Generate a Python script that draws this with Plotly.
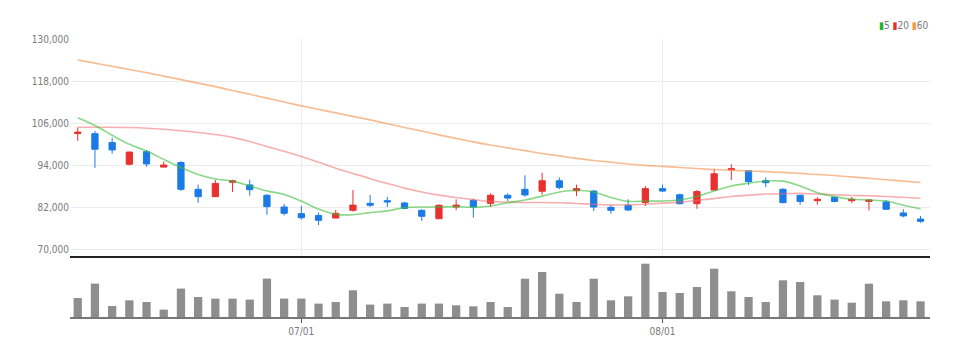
import plotly.graph_objects as go
from plotly.subplots import make_subplots

# ---------------- data ----------------
dates = [
    "2017-06-14", "2017-06-15", "2017-06-16", "2017-06-19", "2017-06-20", "2017-06-21",
    "2017-06-22", "2017-06-23", "2017-06-26", "2017-06-27", "2017-06-28", "2017-06-29",
    "2017-06-30",
    "2017-07-03", "2017-07-04", "2017-07-05", "2017-07-06", "2017-07-07", "2017-07-10",
    "2017-07-11", "2017-07-12", "2017-07-13", "2017-07-14", "2017-07-17", "2017-07-18",
    "2017-07-19", "2017-07-20", "2017-07-21", "2017-07-24", "2017-07-25", "2017-07-26",
    "2017-07-27", "2017-07-28", "2017-07-31",
    "2017-08-01", "2017-08-02", "2017-08-03", "2017-08-04", "2017-08-07", "2017-08-08",
    "2017-08-09", "2017-08-10", "2017-08-11", "2017-08-14", "2017-08-16", "2017-08-17",
    "2017-08-18", "2017-08-21", "2017-08-22", "2017-08-23",
]

open_ = [103000, 102950, 100400, 94200, 97800, 93400, 94700, 87050, 84950, 89050,
         88300, 85350, 82000, 80100, 79600, 78850, 81050, 83050, 83800, 83150,
         81050, 78650, 82000, 83900, 83050, 85350, 87050, 86500, 89500, 86650,
         86550, 81900, 82500, 83250, 87250, 85500, 82950, 86850, 92550, 92400,
         89500, 87050, 85350, 83800, 84750, 83800, 83600, 83450, 80300, 78550]
high = [104700, 103700, 101800, 97800, 98300, 95000, 95100, 88400, 89700, 89800,
        89800, 85700, 82850, 82300, 80400, 81150, 86850, 85450, 84850, 83450,
        81350, 82750, 84200, 84400, 85900, 85900, 91050, 91800, 90400, 88400,
        86850, 82500, 84200, 88000, 88400, 85800, 86850, 92950, 94200, 92400,
        90400, 87350, 85500, 84850, 85050, 84850, 84200, 84000, 81350, 79450]
low = [100900, 93200, 97200, 93900, 93500, 93400, 86600, 83200, 84950, 86300,
       85250, 79800, 79600, 78400, 76850, 78850, 80650, 82000, 82000, 81350,
       78000, 78650, 81050, 78950, 82000, 83700, 84950, 85500, 87050, 85150,
       80850, 80100, 80850, 82300, 86300, 82750, 81500, 86850, 89700, 88300,
       87700, 83050, 82650, 82650, 83350, 83150, 81050, 81350, 79050, 77500]
close = [103400, 98500, 98300, 97700, 94300, 94000, 87050, 84950, 88750, 89500,
         86950, 82100, 80200, 78950, 78200, 80200, 82550, 82500, 83450, 81600,
         79350, 82500, 82550, 82000, 85350, 84550, 85450, 89500, 87600, 87250,
         82000, 81050, 81150, 87250, 86550, 82950, 86400, 91500, 92950, 89250,
         88950, 83250, 83600, 84200, 83600, 84200, 84000, 81350, 79450, 77900]

volume = [19000, 33400, 11000, 16700, 15000, 7400, 28400, 20000, 18400, 18400,
          17400, 38400, 18400, 18400, 13400, 15000, 26700, 12400, 13400, 10000,
          13400, 13400, 11700, 10700, 15000, 10000, 38300, 45000, 23300, 15000,
          38300, 16700, 20700, 53300, 25000, 24000, 30000, 48300, 25700, 20000,
          15000, 36700, 35000, 21700, 17400, 14300, 33300, 15700, 16700, 15700]

ma5 = [107500, 105300, 102500, 99900, 98000, 95600, 93300, 91300, 90000, 89400,
       88000, 86600, 85600, 83700, 81400, 79900, 79800, 80400, 80900, 81800,
       82000, 82000, 82100, 81900, 82300, 83200, 84000, 85100, 86300, 86800,
       86300, 84700, 83600, 83700, 83700, 84000, 85000, 86600, 88000, 88800,
       89400, 89400, 88000, 86100, 85000, 84200, 84000, 83700, 82500, 81500]
ma20 = [104800, 104800, 104800, 104700, 104500, 104200, 103800, 103300, 102700, 101900,
        100700, 99300, 97900, 96400, 94800, 93100, 91600, 90100, 88700, 87400,
        86300, 85400, 84700, 84100, 83600, 83400, 83300, 83300, 83200, 83000,
        82800, 82600, 82600, 82800, 83100, 83400, 83900, 84400, 85000, 85400,
        85700, 85800, 85900, 85700, 85500, 85300, 85200, 85000, 84800, 84500]
ma60 = [124000, 123100, 122200, 121300, 120400, 119400, 118400, 117400, 116400, 115300,
        114200, 113100, 112000, 110900, 109900, 108900, 107900, 106900, 105800, 104700,
        103700, 102600, 101600, 100600, 99700, 98900, 98100, 97300, 96600, 95900,
        95300, 94800, 94300, 93900, 93600, 93300, 93000, 92700, 92500, 92300,
        92100, 91900, 91600, 91300, 91000, 90600, 90200, 89800, 89400, 89000]

tick_dates = ["2017-07-03", "2017-08-01"]
tick_labels = ["07/01", "08/01"]
price_ticks = [70000, 82000, 94000, 106000, 118000, 130000]
ma_names = ["5", "20", "60"]

# ---------------- styling ----------------
UP = "#e8312f"
DOWN = "#1b7be6"
VOL = "#8e8e8e"
MA_LINE = ["rgba(60,190,60,0.6)", "rgba(240,110,110,0.55)", "rgba(244,160,100,0.7)"]
MA_KEY = ["#22b222", "#e8312f", "#f39a3c"]
FONT = "Liberation Sans Narrow, DejaVu Sans Condensed, Roboto, sans-serif"
TICK_COLOR = "#7a7a7a"

fig = make_subplots(rows=2, cols=1, shared_xaxes=True, vertical_spacing=0.0,
                    row_heights=[0.78, 0.22])

for vals, col in zip([ma60, ma20, ma5], [MA_LINE[2], MA_LINE[1], MA_LINE[0]]):
    fig.add_trace(go.Scatter(x=dates, y=vals, mode="lines",
                             line=dict(color=col, width=1.6, shape="spline"),
                             showlegend=False, hoverinfo="skip"), row=1, col=1)

fig.add_trace(go.Candlestick(
    x=dates, open=open_, high=high, low=low, close=close,
    increasing=dict(line=dict(color=UP, width=1), fillcolor=UP),
    decreasing=dict(line=dict(color=DOWN, width=1), fillcolor=DOWN),
    whiskerwidth=0, showlegend=False), row=1, col=1)

fig.add_trace(go.Bar(x=dates, y=volume, marker=dict(color=VOL, line=dict(width=0)),
                     showlegend=False), row=2, col=1)

# page body has an 8px margin; target plot area on screen: x 70..930, y 39..317
OFF = 8
PLOT_TOP, PLOT_BOT = 39 - OFF, 317 - OFF
PLOT_L, PLOT_R = 70 - OFF, 930 - OFF
H = PLOT_BOT - PLOT_TOP
price_dom = [(317 - 256) / H, 1.0]
vol_dom = [0.0, (317 - 259) / H]

xrange = [-0.45, len(dates) - 0.45]

fig.update_layout(
    width=968, height=356,
    margin=dict(l=PLOT_L, r=968 - PLOT_R, t=PLOT_TOP, b=356 - PLOT_BOT),
    paper_bgcolor="white", plot_bgcolor="white",
    font=dict(family=FONT, size=10, color=TICK_COLOR),
    boxgap=0.48, bargap=0.52,
    showlegend=False,
    xaxis=dict(type="category", range=xrange, rangeslider=dict(visible=False),
               showgrid=True, gridcolor="#ececec", gridwidth=1,
               tickmode="array", tickvals=tick_dates, ticktext=tick_labels,
               showticklabels=False, showline=True, linecolor="#222222", linewidth=2,
               zeroline=False),
    xaxis2=dict(type="category", range=xrange,
                showgrid=False, tickmode="array", tickvals=tick_dates, ticktext=tick_labels,
                ticks="outside", ticklen=4, tickcolor="#555555", tickwidth=1,
                showline=True, linecolor="#777777", linewidth=2,
                tickfont=dict(family=FONT, size=10, color=TICK_COLOR)),
    yaxis=dict(domain=price_dom, range=[68000, 130000], tickmode="array",
               tickvals=price_ticks, tickformat=",", showgrid=True,
               gridcolor="#ececec", gridwidth=1, zeroline=False, showline=False,
               tickfont=dict(family=FONT, size=10, color=TICK_COLOR), ticks=""),
    yaxis2=dict(domain=vol_dom, range=[0, 58000], showgrid=False, showticklabels=False,
                zeroline=False, showline=False),
    hovermode=False,
)

# compact legend (top-right)
key = " ".join(
    f"<span style='color:{c}'>▮</span>{n}" for c, n in zip(MA_KEY, ma_names)
)
fig.add_annotation(text=key, xref="paper", yref="paper", x=1.0, y=(317 - 25) / H,
                   xanchor="right", yanchor="middle", showarrow=False,
                   font=dict(family=FONT, size=10, color=TICK_COLOR))

fig.write_html("out.html")
